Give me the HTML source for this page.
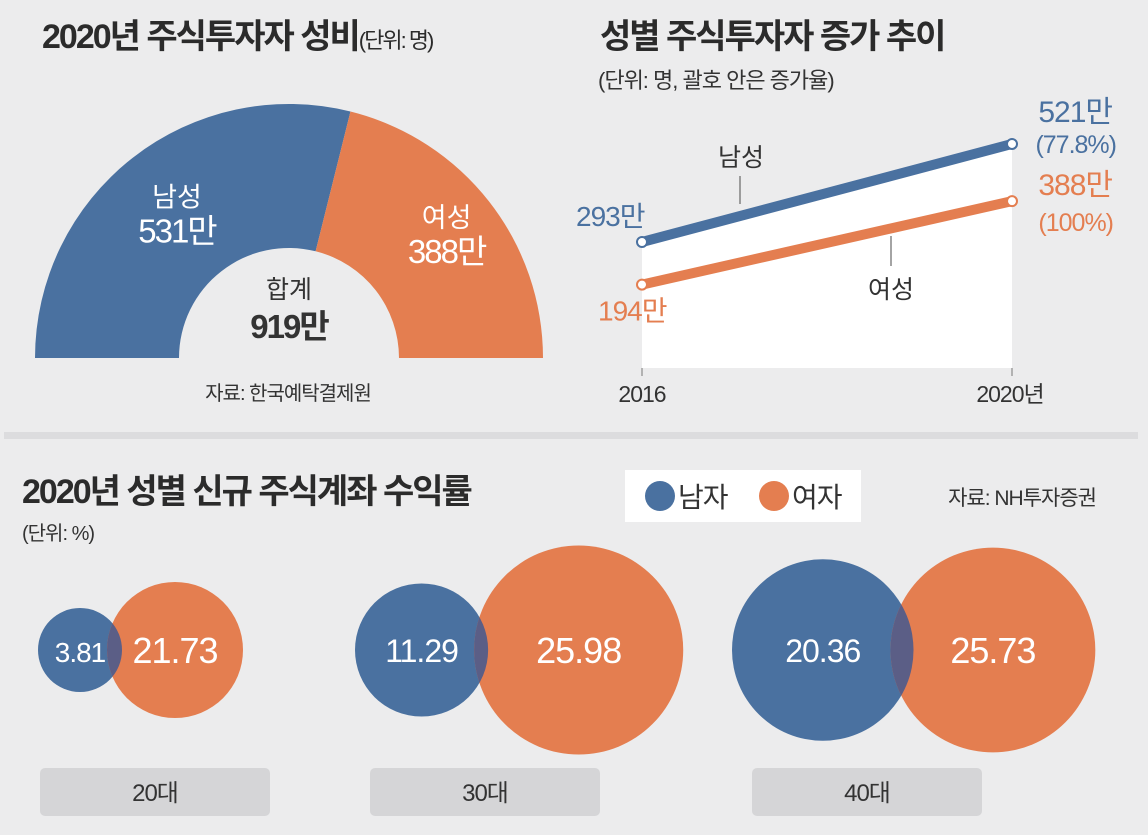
<!DOCTYPE html>
<html><head><meta charset="utf-8">
<style>
html,body{margin:0;padding:0}
body{width:1148px;height:830px;background:#ececed;overflow:hidden;font-family:"Liberation Sans","Noto Sans CJK KR",sans-serif;}
svg text{font-family:"Liberation Sans","Noto Sans CJK KR",sans-serif;}
</style></head>
<body>
<svg id="c" width="1148" height="830" xmlns="http://www.w3.org/2000/svg">
<rect x="4" y="432" width="1134" height="7" fill="#dcdcde"/>
<text x="42" y="48" font-size="34" font-weight="bold" fill="#2b2b2b" letter-spacing="-2">2020년 주식투자자 성비<tspan font-size="22" font-weight="normal">(단위: 명)</tspan></text>
<text x="600" y="48" font-size="34" font-weight="bold" fill="#2b2b2b" letter-spacing="-2">성별 주식투자자 증가 추이</text>
<text x="598" y="88" font-size="22" fill="#333" letter-spacing="-1">(단위: 명, 괄호 안은 증가율)</text>
<text x="288" y="400" font-size="20" fill="#333" text-anchor="middle" letter-spacing="-1">자료: 한국예탁결제원</text>
<g id="donut"></g>
<g id="line"></g>
<text x="22" y="503" font-size="34" font-weight="bold" fill="#2b2b2b" letter-spacing="-2">2020년 성별 신규 주식계좌 수익률</text>
<text x="22" y="540" font-size="20" fill="#333" letter-spacing="-1">(단위: %)</text>
<g>
<rect x="625" y="470" width="236" height="52" fill="#fff"/>
<circle cx="660" cy="496" r="15" fill="#4a71a0"/>
<text x="678" y="507" font-size="28" fill="#333" letter-spacing="-1">남자</text>
<circle cx="774" cy="496" r="15" fill="#e47e50"/>
<text x="792" y="507" font-size="28" fill="#333" letter-spacing="-1">여자</text>
</g>
<text x="1096" y="505" font-size="21" fill="#333" text-anchor="end" letter-spacing="-1">자료: NH투자증권</text>
<g id="bubbles"></g>
</svg>
<script>
const NS='http://www.w3.org/2000/svg';
function mk(tag,attrs,parent,txt){const e=document.createElementNS(NS,tag);for(const k in attrs)e.setAttribute(k,attrs[k]);if(txt!==undefined)e.textContent=txt;parent.appendChild(e);return e;}

// ---- donut data
const donutLabels=['남성','여성'];
const donutValues=[531,388];
const donutTotalLabel='919만';
// ---- line data
const lineYears=['2016','2020년'];
const maleValues=[293,521];
const femaleValues=[194,388];
const maleRateLabel='(77.8%)';
const femaleRateLabel='(100%)';
// ---- bubble data
const ageGroups=['20대','30대','40대'];
const maleReturns=[3.81,11.29,20.36];
const femaleReturns=[21.73,25.98,25.73];

const BLUE='#4a71a0',ORANGE='#e47e50';

// donut
(function(){
 const g=document.getElementById('donut');
 const cx=289,cy=358,R=254,r=110;
 const total=donutValues.reduce((a,b)=>a+b,0);
 let start=Math.PI;
 const cols=[BLUE,ORANGE];
 donutValues.forEach((v,i)=>{
  const end=start-Math.PI*v/total;
  const p=(a,rr)=>[cx+rr*Math.cos(a),cy-rr*Math.sin(a)];
  const [x1,y1]=p(start,R),[x2,y2]=p(end,R),[x3,y3]=p(end,r),[x4,y4]=p(start,r);
  const d=`M${x1},${y1} A${R},${R} 0 0 1 ${x2},${y2} L${x3},${y3} A${r},${r} 0 0 0 ${x4},${y4} Z`;
  const s=mk('path',{d:d,fill:cols[i]},g);
  
  
  const mid=(start+end)/2,[lx,ly]=p(mid,(R+r)/2+(i?18:0));
  const t1=mk('text',{x:lx,y:ly-8,'font-size':27,fill:'#fff','text-anchor':'middle'},g,donutLabels[i]);
  
  
  const t2=mk('text',{x:lx,y:ly+28,'font-size':33,fill:'#fff','text-anchor':'middle','letter-spacing':-2},g,v+'만');
  
  
  start=end;
 });
 const a=mk('text',{x:cx,y:298,'font-size':25,fill:'#333','text-anchor':'middle'},g,'합계');
 
 
 const b=mk('text',{x:cx,y:338,'font-size':33,'font-weight':'bold',fill:'#333','text-anchor':'middle','letter-spacing':-2},g,donutTotalLabel);
 
 
})();

// line chart
(function(){
 const g=document.getElementById('line');
 const x0=642,x1=1012,base=368,k=0.43;
 const X=i=>x0+(x1-x0)*i/(lineYears.length-1);
 const Y=v=>base-v*k;
 const area=mk('path',{d:`M${X(0)},${Y(maleValues[0])} L${X(1)},${Y(maleValues[1])} L${X(1)},${base} L${X(0)},${base} Z`,fill:'#fff'},g);
 
 
 lineYears.forEach((yr,i)=>{
  const tk=mk('line',{x1:X(i),x2:X(i),y1:base,y2:base+8,stroke:'#777','stroke-width':1},g);
  
  
  const t=mk('text',{x:X(i)+(i?-2:0),y:base+34,'font-size':23,fill:'#333','text-anchor':'middle','letter-spacing':-1},g,yr);
  
  
 });
 const l1=mk('line',{x1:740,x2:740,y1:176,y2:204,stroke:'#666','stroke-width':1.2},g);
 
 
 const l2=mk('line',{x1:891,x2:891,y1:236,y2:266,stroke:'#666','stroke-width':1.2},g);
 
 
 const n1=mk('text',{x:741,y:166,'font-size':25,fill:'#333','text-anchor':'middle'},g,'남성');
 
 
 const n2=mk('text',{x:891,y:298,'font-size':25,fill:'#333','text-anchor':'middle'},g,'여성');
 
 
 [[maleValues,BLUE,'male'],[femaleValues,ORANGE,'female']].forEach(([vals,col,nm])=>{
  const pl=mk('line',{x1:X(0),y1:Y(vals[0]),x2:X(1),y2:Y(vals[1]),stroke:col,'stroke-width':10},g);
  
  
  vals.forEach((v,i)=>{
   const c=mk('circle',{cx:X(i),cy:Y(v),r:5,fill:'#fff',stroke:col,'stroke-width':2},g);
   
   
  });
 });
 const mk2=(x,y,txt,col,fs,anchor,name)=>{const t=mk('text',{x:x,y:y,'font-size':fs,fill:col,'text-anchor':anchor,'letter-spacing':-1},g,txt);};
 mk2(574+2,Y(maleValues[0])-16,maleValues[0]+'만',BLUE,28,'start','male-start-label');
 mk2(598,Y(femaleValues[0])+36,femaleValues[0]+'만',ORANGE,28,'start','female-start-label');
 mk2(1112,Y(maleValues[1])-22,maleValues[1]+'만',BLUE,30,'end','male-end-label');
 mk2(1116,Y(maleValues[1])+9,maleRateLabel,BLUE,25,'end','male-rate-label');
 mk2(1112,Y(femaleValues[1])-6,femaleValues[1]+'만',ORANGE,30,'end','female-end-label');
 mk2(1113,Y(femaleValues[1])+30,femaleRateLabel,ORANGE,25,'end','female-rate-label');
})();

// bubbles
(function(){
 const g=document.getElementById('bubbles');
 const cy=650;
 const groupLeft=[40,370,752];
 const blueLeft=[38,355,732];
 const rM=v=>Math.max(42,21*Math.sqrt(v)-4+ (v<5?4:0));
 const rF=v=>68+(v-21.73)*8.6;
 ageGroups.forEach((ag,i)=>{
  const rm=rM(maleReturns[i]),rf=rF(femaleReturns[i]);
  const cxm=blueLeft[i]+rm;
  const overlap=[15,14,23][i];
  const cxf=cxm+rm+rf-overlap;
  const cm=mk('circle',{cx:cxm,cy:cy,r:rm,fill:BLUE},g);
  
  
  const cf=mk('circle',{cx:cxf,cy:cy,r:rf,fill:ORANGE},g);
  
  
  const cpid='cp'+i;
  const cp=mk('clipPath',{id:cpid},g);mk('circle',{cx:cxf,cy:cy,r:rf},cp);
  const ov=mk('circle',{cx:cxm,cy:cy,r:rm,fill:'#5b5e86','clip-path':`url(#${cpid})`},g);
  
  
  const tm=mk('text',{x:cxm,y:cy+12,'font-size':rm<50?28:32,fill:'#fff','text-anchor':'middle','letter-spacing':-1},g,maleReturns[i].toFixed(2));
  
  
  const tf=mk('text',{x:cxf,y:cy+13,'font-size':36,fill:'#fff','text-anchor':'middle','letter-spacing':-1},g,femaleReturns[i].toFixed(2));
  
  
  const bx=mk('rect',{x:groupLeft[i],y:768,width:230,height:48,rx:5,fill:'#d5d5d7'},g);
  
  
  const bt=mk('text',{x:groupLeft[i]+115,y:801,'font-size':24,fill:'#333','text-anchor':'middle','letter-spacing':-1},g,ag);
  
  
 });
})();
</script>
</body></html>
